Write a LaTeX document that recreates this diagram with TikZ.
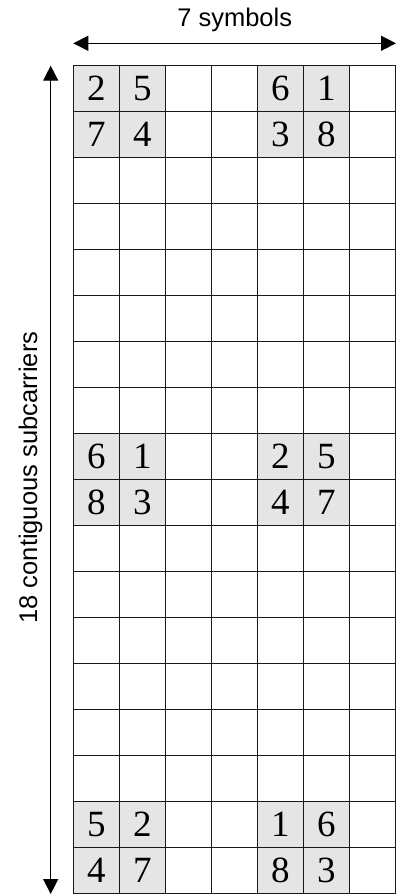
\documentclass[tikz,border=0pt]{standalone}
\usepackage{fontspec}
\setmainfont{Liberation Serif}
\newfontfamily\labelfont{Liberation Sans}
\usetikzlibrary{arrows.meta}
\begin{document}
\begin{tikzpicture}[x=1pt,y=-1pt,
  cellbox/.style={draw=black!90, line width=1pt, minimum size=46pt, inner sep=0pt, outer sep=0pt},
  shaded/.style={cellbox, fill=black!10},
  digit/.style={font=\fontsize{37}{37}\selectfont},
  dimarrow/.style={line width=1.4pt, {Triangle[length=15pt,width=15pt]}-{Triangle[length=15pt,width=15pt]}},
  lab/.style={font=\labelfont\fontsize{25.5}{25.5}\selectfont, inner sep=0pt}]
\useasboundingbox (0,0) rectangle (403,895);
% grid
\foreach \r in {1,...,18}{
  \foreach \c in {1,...,7}{
    \node[cellbox] (c-\r-\c) at ({73.3+46*(\c-0.5)},{65.7+46*(\r-0.5)}) {};
  }
}
% shaded, numbered cells
\foreach \r/\c/\d in {1/1/2,1/2/5,1/5/6,1/6/1,
                      2/1/7,2/2/4,2/5/3,2/6/8,
                      9/1/6,9/2/1,9/5/2,9/6/5,
                      10/1/8,10/2/3,10/5/4,10/6/7,
                      17/1/5,17/2/2,17/5/1,17/6/6,
                      18/1/4,18/2/7,18/5/8,18/6/3}{
  \node[shaded, digit] (s-\r-\c) at (c-\r-\c.center) {\raisebox{1pt}{\d}};
}
% arrows
\coordinate (hl) at (73.3,43.3);
\coordinate (hr) at (396,43.3);
\coordinate (vt) at (50.7,65.7);
\coordinate (vb) at (50.7,894);
\draw[dimarrow] (hl) -- (hr);
\draw[dimarrow] (vt) -- (vb);
% labels
\node[lab, anchor=base] (symlab) at (234.7,26.7) {7 symbols};
\node[lab, rotate=90, anchor=base] (sublab) at (37,477.5) {18 contiguous subcarriers};
\end{tikzpicture}
\end{document}
